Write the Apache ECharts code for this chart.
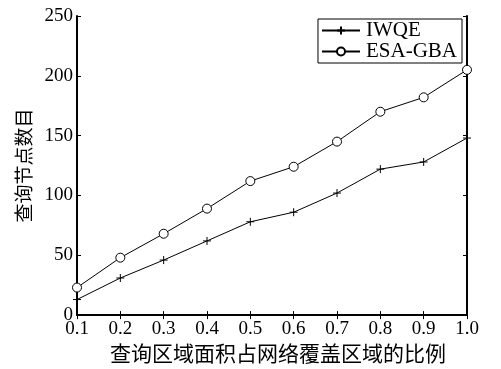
<!DOCTYPE html>
<html>
<head>
<meta charset="utf-8">
<script src="https://cdn.jsdelivr.net/npm/echarts@6/dist/echarts.min.js"></script>
<style>
  html, body { margin: 0; padding: 0; background: #fff; }
  #main { width: 501px; height: 369px; }
</style>
</head>
<body>
<div id="main"></div>
<script>
// 横轴：查询区域面积占比
const ratios = [0.1, 0.2, 0.3, 0.4, 0.5, 0.6, 0.7, 0.8, 0.9, 1.0];
// 两种方法的查询节点数目
const iwqe = [13, 31, 46, 62, 78, 86, 102, 122, 128, 148];
const esaGba = [23, 48, 68, 89, 112, 124, 145, 170, 182, 205];
const seriesNames = ['IWQE', 'ESA-GBA'];

const serif = '"Liberation Serif", "DejaVu Serif", serif';
const cjk = '"Noto Sans CJK SC", sans-serif';

let chart = echarts.init(document.getElementById('main'));

function pairs(ys) {
    return ratios.map((x, i) => [x, ys[i]]);
}

let plusPath = 'path://M0,-10L0,10M-10,0L10,0';

let option = {
    animation: false,
    grid: { left: 77, right: 34, top: 16, bottom: 46 },
    legend: {
        orient: 'vertical',
        right: 39,
        top: 19,
        padding: [1, 5, 1, 3],
        itemGap: 0,
        itemWidth: 38,
        itemHeight: 10,
        borderColor: '#000',
        borderWidth: 1,
        backgroundColor: '#fff',
        borderRadius: 0,
        textStyle: { fontFamily: serif, fontSize: 21, color: '#000', padding: [0, 0, 0, 1] },
        data: seriesNames
    },
    xAxis: [
        {
            type: 'value',
            min: 0.1,
            max: 1.0,
            interval: 0.1,
            name: '查询区域面积占网络覆盖区域的比例',
            nameLocation: 'middle',
            nameGap: 25,
            nameTextStyle: { fontFamily: cjk, fontSize: 21, color: '#000', padding: [0, 0, 0, 12] },
            axisLine: { lineStyle: { color: '#000', width: 2 } },
            axisTick: { inside: true, length: 4, lineStyle: { color: '#000' } },
            axisLabel: {
                fontFamily: serif, fontSize: 19, color: '#000', margin: 4,
                formatter: (v) => v.toFixed(1)
            },
            splitLine: { show: false }
        },
        {
            type: 'value',
            position: 'top',
            min: 0.1,
            max: 1.0,
            interval: 0.1,
            axisLine: { lineStyle: { color: '#000', width: 2 } },
            axisTick: { inside: true, length: 4, lineStyle: { color: '#000' } },
            axisLabel: { show: false },
            splitLine: { show: false }
        }
    ],
    yAxis: [
        {
            type: 'value',
            min: 0,
            max: 250,
            interval: 50,
            name: '查询节点数目',
            nameLocation: 'middle',
            nameGap: 43,
            nameTextStyle: { fontFamily: cjk, fontSize: 19, color: '#000' },
            axisLine: { show: true, lineStyle: { color: '#000', width: 2 } },
            axisTick: { show: true, inside: true, length: 4, lineStyle: { color: '#000' } },
            axisLabel: { fontFamily: serif, fontSize: 19, color: '#000', margin: 4 },
            splitLine: { show: false }
        },
        {
            type: 'value',
            position: 'right',
            min: 0,
            max: 250,
            interval: 50,
            axisLine: { show: true, lineStyle: { color: '#000', width: 2 } },
            axisTick: { show: true, inside: true, length: 4, lineStyle: { color: '#000' } },
            axisLabel: { show: false },
            splitLine: { show: false }
        }
    ],
    series: [
        {
            name: seriesNames[0],
            type: 'line',
            data: pairs(iwqe),
            symbol: plusPath,
            symbolSize: 8,
            lineStyle: { color: '#000', width: 1 },
            itemStyle: { color: 'none', borderColor: '#000', borderWidth: 1 }
        },
        {
            name: seriesNames[1],
            type: 'line',
            data: pairs(esaGba),
            symbol: 'circle',
            symbolSize: 9,
            lineStyle: { color: '#000', width: 1 },
            itemStyle: { color: '#fff', borderColor: '#000', borderWidth: 1 }
        }
    ]
};
chart.setOption(option);
</script>
</body>
</html>
